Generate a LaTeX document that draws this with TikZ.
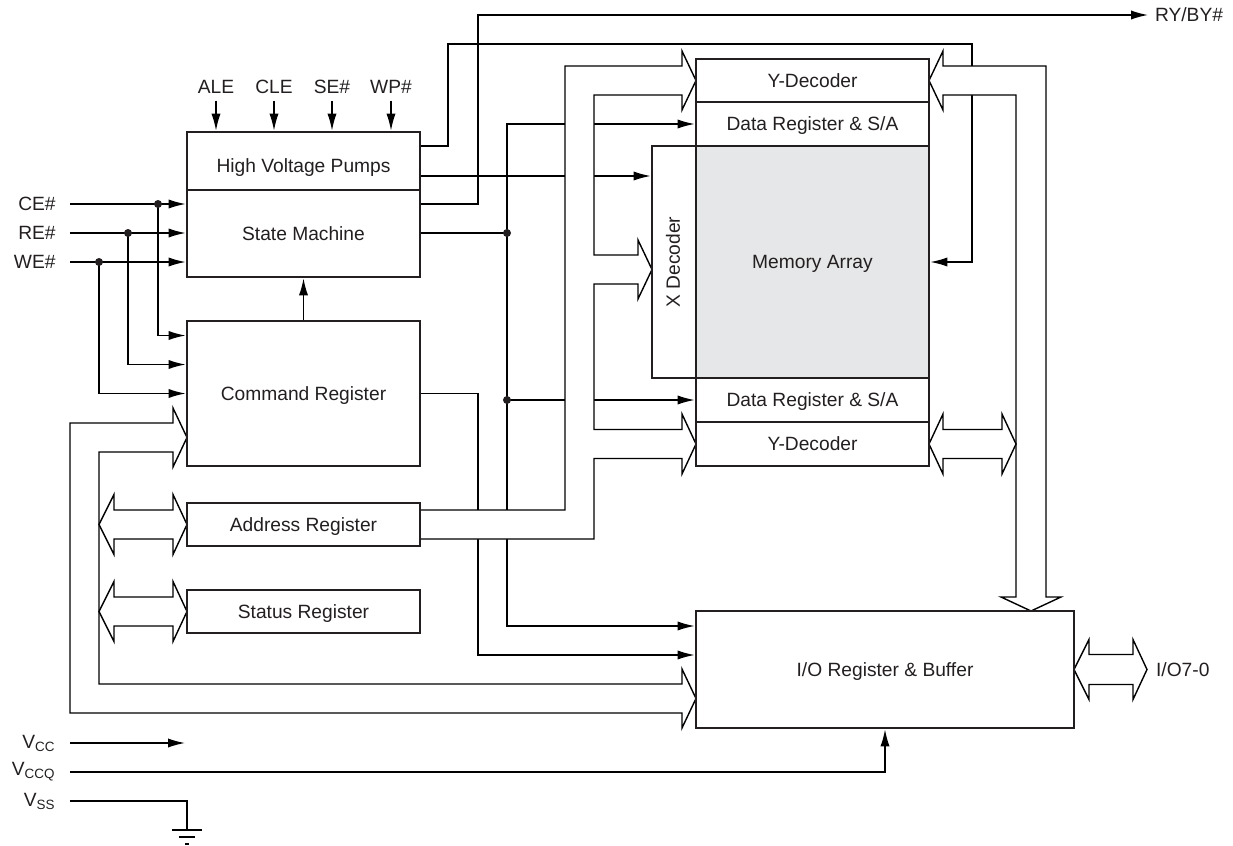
\documentclass[tikz,border=0pt]{standalone}
\usepackage{fontspec}
\setmainfont{Liberation Sans}
\usetikzlibrary{arrows.meta, calc, positioning, backgrounds}
\definecolor{ink}{RGB}{35,31,32}
\definecolor{memgray}{RGB}{230,231,232}

\begin{document}
\begin{tikzpicture}[
  x=0.5pt, y=-0.5pt,
  color=ink,
  font=\fontsize{9.6}{11.5}\selectfont,
  blk/.style={draw, line width=1.4pt, inner sep=0, minimum width=116.5pt, minimum height=21.5pt,
    align=center, text height=6.9pt, text depth=0pt},
  pin/.style={anchor=east, inner xsep=7pt, inner ysep=0},
  sig/.style={line width=0.7pt},
  arrow/.style={sig, -{Latex[length=8.5pt, width=4.6pt]}},
  bus/.style={line width=0.7pt, fill=white},
  dot/.style={circle, fill, inner sep=0, minimum size=4pt}
]
\useasboundingbox (0,0) rectangle (1233,846);

% Control blocks
\node[blk, minimum height=29pt, text height=11.5pt] (hvp) at (303.5,161) {High Voltage Pumps};
\node[blk, minimum height=43.5pt] (sm) at (303.5,233.5) {State Machine};
\node[blk, minimum height=72.5pt] (cmd) at (303.5,393.5) {Command Register};
\node[blk] (addr) at (303.5,524.5) {Address Register};
\node[blk] (stat) at (303.5,611.5) {Status Register};

% Array blocks
\node[blk, minimum width=22pt, minimum height=116pt] (xdec) at (674,262) {};
\node[rotate=90] (xdecTxt) at (673,262) {X Decoder};
\node[blk, minimum height=116pt, fill=memgray] (mem) at (812.5,262) {Memory Array};
\node[blk] (ydecT) at (812.5,80.5) {Y-Decoder};
\node[blk, minimum height=22pt] (dregT) at (812.5,124) {Data Register \& S/A};
\node[blk, minimum height=22pt] (dregB) at (812.5,400) {Data Register \& S/A};
\node[blk, minimum height=22pt] (ydecB) at (812.5,444) {Y-Decoder};
\node[blk, minimum width=189pt, minimum height=58.5pt] (io) at (885,669.5) {I/O Register \& Buffer};

% Pins
\node (ale) at (216,87) {ALE};
\node (cle) at (274,87) {CLE};
\node (se) at (332,87) {SE\#};
\node (wp) at (391,87) {WP\#};
\node[pin] (ce) at (70,204) {CE\#};
\node[pin] (re) at (70,233) {RE\#};
\node[pin] (we) at (70,262) {WE\#};
\node[pin] (vcc) at (70,743) {V\textsubscript{CC}};
\node[pin] (vccq) at (70,772) {V\textsubscript{CCQ}};
\node[pin] (vss) at (70,801) {V\textsubscript{SS}};
\node[anchor=west] (ryby) at (1148,15) {RY/BY\#};
\node[anchor=west] (iolab) at (1149,669.5) {I/O7-0};

% Junctions and bends
\node[dot] (ceJ) at (158,204) {};
\node[dot] (reJ) at (128,233) {};
\node[dot] (weJ) at (99,262) {};
\node[dot] (smJ) at (507,233) {};
\node[dot] (dJ) at (507,400) {};
\coordinate (pumpUp) at (448,44);
\coordinate (arrR) at (972,262);
\coordinate (rbUp) at (478,15);
\coordinate (cmdDn) at (478,655);
\coordinate (smDn) at (507,626);
\coordinate (vccEnd) at (185,743);
\coordinate (gnd) at (187,830);

\begin{scope}[on background layer]
% Control inputs
\foreach \n in {ale,cle,se,wp}
  \draw[arrow] (\n.south) -- (\n.south |- hvp.north);
\draw[arrow] (ce.east) -- (ce -| sm.west);
\draw[arrow] (re.east) -- (re -| sm.west);
\draw[arrow] (we.east) -- (we -| sm.west);
\draw[arrow] (ceJ.center) |- ([yshift=29pt]cmd.west);
\draw[arrow] (reJ.center) |- ([yshift=14.5pt]cmd.west);
\draw[arrow] (weJ.center) |- (cmd.west);
\draw[arrow] (cmd.north) -- (sm.south);

% Pump and state machine outputs
\draw[arrow] ([yshift=7.5pt]hvp.east) -| (pumpUp) -| (arrR) -- (mem.east);
\draw[arrow] ([yshift=-7.5pt]hvp.east) -- ([yshift=-7.5pt]hvp.east -| xdec.west);
\draw[arrow] (ce -| sm.east) -| (rbUp) -- (ryby.west);
\draw[sig] (re -| sm.east) -- (smJ.center);
\draw[arrow] (smJ.center) |- (dregT.west);
\draw[arrow] (smJ.center) -- (smDn) -- (smDn -| io.west);
\draw[arrow] (dJ.center) -- (dregB.west);
\draw[arrow] (cmd.east) -| (cmdDn) -- (cmdDn -| io.west);

% Supplies
\draw[arrow] (vcc.east) -- (vccEnd);
\draw[arrow] (vccq.east) -| (io.south);
\draw[sig] (vss.east) -| (gnd);
\draw[sig] ($(gnd)+(-15,0)$) -- ++(30,0);
\draw[sig] ($(gnd)+(-8,7)$) -- ++(16,0);
\draw[sig] ($(gnd)+(-2,14)$) -- ++(4,0);

% Buses
\draw[bus] (173,423) -- (70,423) -- (70,713) -- (682,713) -- (682,728) -- (696,698.5)
  -- (682,669) -- (682,684) -- (99,684) -- (99,452) -- (173,452) -- (173,467)
  -- (187,437.5) -- (173,408) -- cycle;
\foreach \yc in {524.5,611.5}
  \draw[bus] (99,\yc) -- ++(15,-30) -- ++(0,15.5) -- ++(59,0) -- ++(0,-15.5) -- ++(14,30)
    -- ++(-14,30) -- ++(0,-15.5) -- ++(-59,0) -- ++(0,15.5) -- cycle;
\draw[bus] (420,510) -- (565,510) -- (565,66) -- (682,66) -- (682,51) -- (696,80.5)
  -- (682,110) -- (682,95) -- (594,95) -- (594,255) -- (638,255) -- (638,240)
  -- (652,269.5) -- (638,299) -- (638,284) -- (594,284) -- (594,429.5) -- (682,429.5)
  -- (682,414) -- (696,444) -- (682,474) -- (682,458.5) -- (594,458.5) -- (594,539)
  -- (420,539);
\draw[bus] (929,80.5) -- (943,51) -- (943,66) -- (1046,66) -- (1046,597) -- (1061,597)
  -- (1031,611) -- (1001,597) -- (1016,597) -- (1016,95) -- (943,95) -- (943,110) -- cycle;
\draw[bus] (929,444) -- (943,414) -- (943,429.5) -- (1002,429.5) -- (1002,414) -- (1016,444)
  -- (1002,474) -- (1002,458.5) -- (943,458.5) -- (943,474) -- cycle;
\draw[bus] (1074,669.5) -- (1089,639.5) -- (1089,654.5) -- (1133,654.5) -- (1133,639.5)
  -- (1147,669.5) -- (1133,699.5) -- (1133,684.5) -- (1089,684.5) -- (1089,699.5) -- cycle;
\end{scope}

\end{tikzpicture}
\end{document}
